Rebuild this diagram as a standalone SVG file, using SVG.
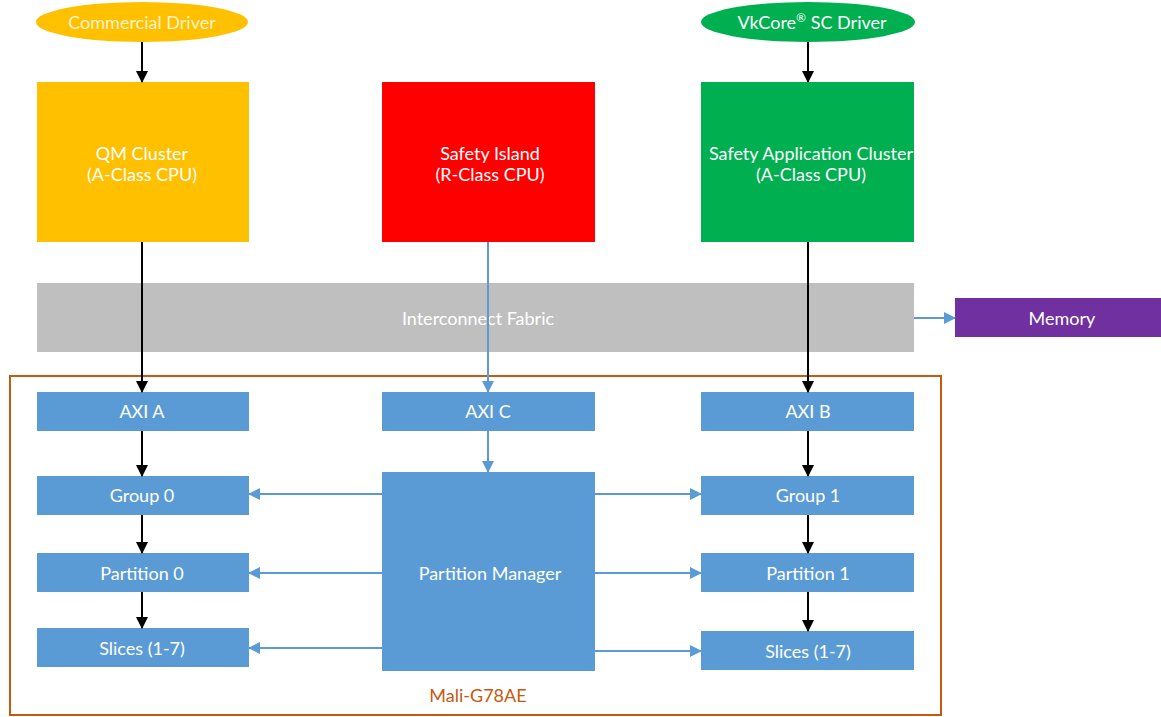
<svg xmlns="http://www.w3.org/2000/svg" width="1161" height="717" viewBox="0 0 1161 717">
<style>
text{font-family:Lato,"Liberation Sans",sans-serif;font-size:18px;fill:#fff;text-anchor:middle;dominant-baseline:central}
.blue{fill:#5B9BD5}
.bl{stroke:#000;stroke-width:2;fill:none}
.bu{stroke:#5B9BD5;stroke-width:2;fill:none}
</style>
<defs>
<marker id="ab" markerWidth="12" markerHeight="12" refX="11" refY="6" orient="auto" markerUnits="userSpaceOnUse" viewBox="0 0 12 12"><path d="M0,0 L12,6 L0,12z" fill="#000"/></marker>
<marker id="au" markerWidth="12" markerHeight="12" refX="11" refY="6" orient="auto" markerUnits="userSpaceOnUse" viewBox="0 0 12 12"><path d="M0,0 L12,6 L0,12z" fill="#5B9BD5"/></marker>
</defs>
<rect width="1161" height="717" fill="#fff"/>
<g id="mali"><rect x="10" y="376" width="931" height="339" fill="none" stroke="#C55A11" stroke-width="2"/><text x="478" y="695" style="fill:#C55A11">Mali-G78AE</text></g>
<g id="commercial"><ellipse cx="142" cy="22" rx="106" ry="20" fill="#FFC000"/><text x="142" y="22" style="fill:#FFF2CC">Commercial Driver</text></g>
<g id="vkcore"><ellipse cx="808" cy="22" rx="107" ry="20" fill="#00B050"/><text x="812" y="22">VkCore<tspan font-size="12" dy="-5">®</tspan><tspan dy="5"> SC Driver</tspan></text></g>
<g id="qm"><rect x="37" y="82" width="212" height="160" fill="#FFC000"/><text x="142" y="153">QM Cluster</text><text x="142" y="174">(A-Class CPU)</text></g>
<g id="safety-island"><rect x="382" y="82" width="213" height="160" fill="#FF0000"/><text x="490" y="153">Safety Island</text><text x="490" y="174">(R-Class CPU)</text></g>
<g id="safety-app"><rect x="701" y="82" width="213" height="160" fill="#00B050"/><text x="811" y="153">Safety Application Cluster</text><text x="811" y="174">(A-Class CPU)</text></g>
<g id="fabric"><rect x="37" y="283" width="877" height="69" fill="#BFBFBF"/><text x="478" y="318">Interconnect Fabric</text></g>
<g id="memory"><rect x="955" y="298" width="206" height="39" fill="#7030A0"/><text x="1062" y="318">Memory</text></g>
<g id="axi-a"><rect class="blue" x="37" y="392" width="212" height="39"/><text x="142" y="411">AXI A</text></g>
<g id="axi-c"><rect class="blue" x="382" y="392" width="213" height="39"/><text x="488" y="411">AXI C</text></g>
<g id="axi-b"><rect class="blue" x="701" y="392" width="213" height="39"/><text x="808" y="411">AXI B</text></g>
<g id="group0"><rect class="blue" x="37" y="476" width="212" height="39"/><text x="142" y="495">Group 0</text></g>
<g id="group1"><rect class="blue" x="701" y="476" width="213" height="39"/><text x="808" y="495">Group 1</text></g>
<g id="partition0"><rect class="blue" x="37" y="553" width="212" height="39"/><text x="142" y="573">Partition 0</text></g>
<g id="partition1"><rect class="blue" x="701" y="553" width="213" height="39"/><text x="808" y="573">Partition 1</text></g>
<g id="slices-left"><rect class="blue" x="37" y="628" width="212" height="39"/><text x="142" y="648">Slices (1-7)</text></g>
<g id="slices-right"><rect class="blue" x="701" y="631" width="213" height="39"/><text x="808" y="651">Slices (1-7)</text></g>
<g id="pm"><rect class="blue" x="382" y="472" width="213" height="199"/><text x="490" y="573">Partition Manager</text></g>
<g id="connectors">
<path class="bl" d="M142,42V82" marker-end="url(#ab)"/>
<path class="bl" d="M808,42V82" marker-end="url(#ab)"/>
<path class="bl" d="M142,242V392" marker-end="url(#ab)"/>
<path class="bl" d="M808,242V392" marker-end="url(#ab)"/>
<path class="bl" d="M142,431V476" marker-end="url(#ab)"/>
<path class="bl" d="M142,515V553" marker-end="url(#ab)"/>
<path class="bl" d="M142,592V628" marker-end="url(#ab)"/>
<path class="bl" d="M808,431V476" marker-end="url(#ab)"/>
<path class="bl" d="M808,515V553" marker-end="url(#ab)"/>
<path class="bl" d="M808,592V631" marker-end="url(#ab)"/>
<path class="bu" d="M488,242V392" marker-end="url(#au)"/>
<path class="bu" d="M488,431V472" marker-end="url(#au)"/>
<path class="bu" d="M914,318H955" marker-end="url(#au)"/>
<path class="bu" d="M382,494H249" marker-end="url(#au)"/>
<path class="bu" d="M382,573H249" marker-end="url(#au)"/>
<path class="bu" d="M382,648H249" marker-end="url(#au)"/>
<path class="bu" d="M595,494H701" marker-end="url(#au)"/>
<path class="bu" d="M595,573H701" marker-end="url(#au)"/>
<path class="bu" d="M595,651H701" marker-end="url(#au)"/>
</g>
</svg>
